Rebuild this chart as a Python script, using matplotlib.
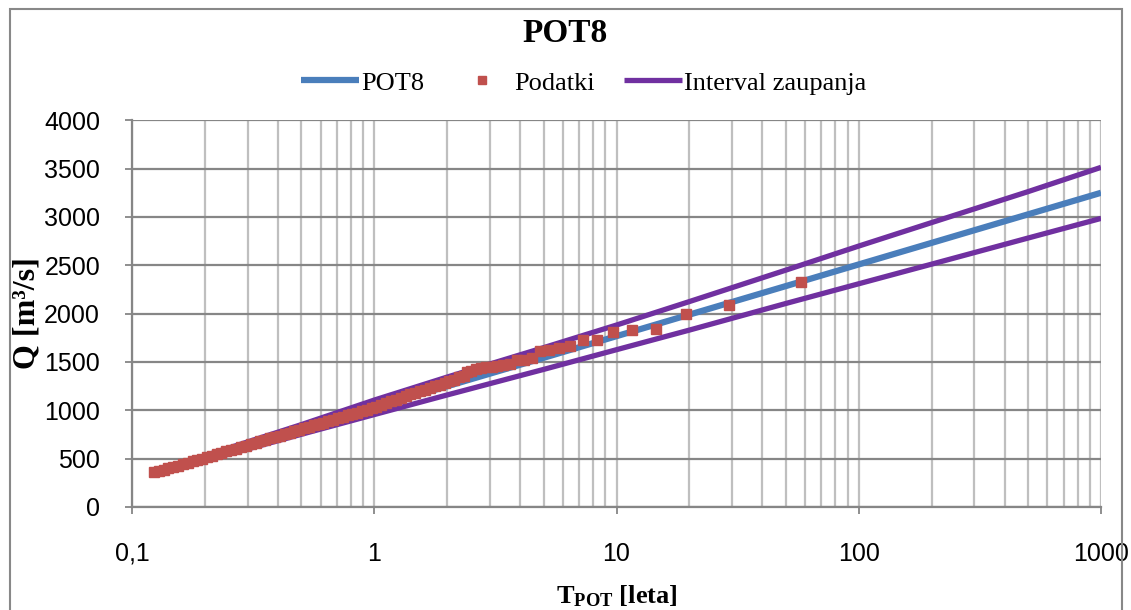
import matplotlib
matplotlib.use("Agg")
import matplotlib.pyplot as plt
from matplotlib.patches import Rectangle
from matplotlib.ticker import LogLocator, NullFormatter

plt.rcParams['mathtext.fontset'] = 'custom'
plt.rcParams['mathtext.rm'] = 'Liberation Serif'
plt.rcParams['mathtext.bf'] = 'Liberation Serif:bold'

# ---- data ----
# fitted POT8 line
line_T = [0.125, 0.2, 0.5, 1, 2, 5, 10, 20, 50, 100, 200, 500, 1000]
line_Q = [355, 506, 801, 1025, 1248, 1542, 1766, 1989, 2284, 2508, 2731, 3026, 3249]

# confidence interval
ci_T = [0.213, 0.5, 1, 2, 5, 10, 20, 50, 100, 200, 500, 1000]
ci_upper = [552, 851, 1105, 1343, 1647, 1881, 2124, 2449, 2698, 2941, 3261, 3512]
ci_lower = [497, 751, 955, 1158, 1422, 1626, 1829, 2104, 2308, 2511, 2781, 2984]

# observed data (dense part then single points)
data_T = [0.123, 0.129, 0.135, 0.141, 0.148, 0.155, 0.162, 0.170, 0.178, 0.186,
          0.195, 0.204, 0.214, 0.224, 0.234, 0.245, 0.257, 0.269, 0.282, 0.295,
          0.309, 0.324, 0.339, 0.355, 0.372, 0.389, 0.407, 0.427, 0.447, 0.468,
          0.490, 0.513, 0.537, 0.562, 0.589, 0.617, 0.646, 0.676, 0.708, 0.741,
          0.776, 0.813, 0.851, 0.891, 0.933, 0.977, 1.02, 1.07, 1.12, 1.17,
          1.23, 1.29, 1.35, 1.41, 1.48, 1.55, 1.62, 1.70, 1.78, 1.86,
          1.95, 2.04, 2.14, 2.24, 2.34,
          2.42, 2.52, 2.64, 2.76, 2.90, 3.05, 3.22, 3.41, 3.63, 3.87,
          4.14, 4.46, 4.83, 5.27, 5.80, 6.44, 7.25, 8.29, 9.67, 11.6,
          14.5, 19.3, 29.0, 58.0]
data_Q = [358, 372, 385, 398, 412, 427, 441, 455, 470, 484,
          500, 516, 530, 545, 560, 574, 589, 603, 618, 632,
          647, 662, 677, 692, 708, 723, 738, 753, 768, 783,
          798, 813, 828, 843, 858, 872, 887, 902, 916, 931,
          946, 961, 976, 991, 1006, 1021, 1035, 1053, 1072, 1091,
          1109, 1128, 1147, 1164, 1181, 1198, 1214, 1231, 1248, 1265,
          1282, 1298, 1317, 1339, 1359,
          1392, 1407, 1422, 1432, 1447, 1450, 1460, 1466, 1483, 1515,
          1520, 1535, 1614, 1628, 1642, 1669, 1727, 1727, 1813, 1827,
          1841, 1998, 2092, 2327]

xtick_vals = [0.1, 1, 10, 100, 1000]
xtick_labels = ['0,1', '1', '10', '100', '1000']
ytick_vals = [0, 500, 1000, 1500, 2000, 2500, 3000, 3500, 4000]

blue = '#4A7EBB'
red = '#C0504D'
purple = '#7030A0'

fig = plt.figure(figsize=(11.31, 6.10), dpi=100)
ax = fig.add_axes([0.1167, 0.169, 0.9735 - 0.1167, 0.803 - 0.169])

ax.plot(ci_T, ci_upper, color=purple, lw=3.8, zorder=2, label='Interval zaupanja',
        solid_capstyle='butt')
ax.plot(ci_T, ci_lower, color=purple, lw=3.8, zorder=2, solid_capstyle='butt')
ax.plot(line_T, line_Q, color=blue, lw=4.5, zorder=3, label='POT8',
        solid_capstyle='butt')
ax.plot(data_T, data_Q, ls='none', marker='s', ms=6.5, color=red, mec=red,
        zorder=4, label='Podatki')

ax.set_xscale('log')
ax.set_xlim(0.1, 1000)
ax.set_ylim(0, 4000)
ax.set_xticks(xtick_vals)
ax.set_xticklabels(xtick_labels)
ax.xaxis.set_minor_locator(LogLocator(base=10, subs=range(2, 10)))
ax.xaxis.set_minor_formatter(NullFormatter())
ax.set_yticks(ytick_vals)

ax.grid(True, which='major', axis='y', color='#868686', lw=1.6)
ax.grid(True, which='both', axis='x', color='#BFBFBF', lw=1.6)
ax.set_axisbelow(True)

for s in ['top', 'right']:
    ax.spines[s].set_visible(False)
for s in ['left', 'bottom']:
    ax.spines[s].set_color('#868686')
    ax.spines[s].set_linewidth(1.6)

ax.tick_params(axis='y', which='major', direction='out', length=5, width=1.3,
               color='#868686', labelsize=18, pad=18)
ax.tick_params(axis='x', which='major', direction='out', length=5, width=1.3,
               color='#868686', labelsize=18, pad=20)
ax.tick_params(axis='x', which='minor', length=0)
for lab in ax.get_xticklabels() + ax.get_yticklabels():
    lab.set_fontfamily('Liberation Sans')

ax.set_ylabel('Q [m³/s]', fontfamily='Liberation Serif', fontweight='bold',
              fontsize=23, va='center')
ax.yaxis.set_label_coords(-0.108, 0.5)
ax.set_xlabel(r'$\mathbf{T_{POT}}$ [leta]', fontfamily='Liberation Serif',
              fontweight='bold', fontsize=19, va='center')
ax.xaxis.set_label_coords(0.5, -0.232)

fig.text(0.5, 0.945, 'POT8', ha='center', va='center', fontfamily='Liberation Serif',
         fontweight='bold', fontsize=24)

handles, labels = ax.get_legend_handles_labels()
order = [1, 2, 0]
fig.legend([handles[i] for i in order], [labels[i] for i in order],
           loc='center', bbox_to_anchor=(0.516, 0.864), ncol=3, frameon=False,
           prop={'family': 'Liberation Serif', 'size': 19},
           handlelength=2.2, handletextpad=0.1, columnspacing=1.1, markerscale=0.8)

fig.patches.append(Rectangle((10 / 1131, -0.02), 1112 / 1131, 1.02 - 9 / 610,
                             transform=fig.transFigure, fill=False,
                             edgecolor='#888888', lw=1.5))

fig.savefig('out.png', dpi=100)
